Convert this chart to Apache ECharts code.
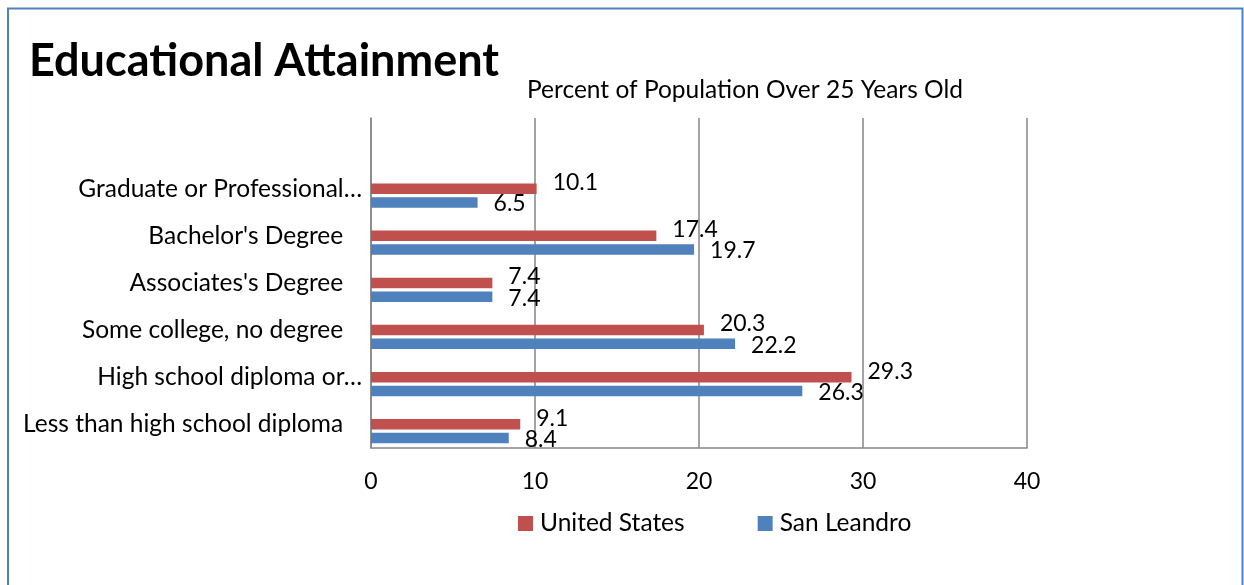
<!DOCTYPE html>
<html>
<head>
<meta charset="utf-8">
<script src="https://cdn.jsdelivr.net/npm/echarts@6/dist/echarts.min.js"></script>
<style>
html,body{margin:0;padding:0;background:#fff;}
#chart{width:1244px;height:585px;}
</style>
</head>
<body>
<div id="chart"></div>
<script>
// Categories bottom-to-top as drawn on the category axis
const categories = [
  "Less than high school diploma   ",
  "High school diploma or…",
  "Some college, no degree   ",
  "Associates's Degree   ",
  "Bachelor's Degree   ",
  "Graduate or Professional…"
];
const unitedStates = [9.1, 29.3, 20.3, 7.4, 17.4, 10.1];
const sanLeandro   = [8.4, 26.3, 22.2, 7.4, 19.7, 6.5];
const xTicks = [0, 10, 20, 30, 40];
const titleText = "Educational Attainment";
const subtitleText = "Percent of Population Over 25 Years Old";

const FONT = "Lato";
const RED = "#C0504D", BLUE = "#4F81BD";

const chart = echarts.init(document.getElementById('chart'), null, {renderer: 'canvas'});
// One empty slot at the top of the category axis, as in the original plot area
const yCats = categories.concat([""]);
const xMin = xTicks[0], xMax = xTicks[xTicks.length - 1];
chart.setOption({
  animation: false,
  backgroundColor: "#fff",
  textStyle: {fontFamily: FONT},
  graphic: [{
    type: 'rect', silent: true,
    shape: {x: 8, y: 8.5, width: 1234.5, height: 700},
    style: {fill: 'none', stroke: BLUE, lineWidth: 2}
  }],
  title: [
    {text: titleText, left: 24, top: 34,
     textStyle: {fontFamily: FONT, fontWeight: 'bold', fontSize: 45, color: '#000'}},
    {text: subtitleText, left: 740, top: 73, textAlign: 'center',
     textStyle: {fontFamily: FONT, fontWeight: 'normal', fontSize: 24.5, color: '#000'}}
  ],
  legend: {
    data: ["United States", "San Leandro"],
    left: 513, top: 506,
    itemWidth: 15, itemHeight: 15, itemGap: 73,
    icon: 'rect',
    textStyle: {fontFamily: FONT, fontSize: 24.5, color: '#000', padding: [0, 0, 0, 2]}
  },
  grid: [
    {left: 371, right: 217, top: 118, bottom: 137, containLabel: false},
    {left: 371, right: 217, top: 124.8, bottom: 130.2, containLabel: false}
  ],
  xAxis: [
    {gridIndex: 0, type: 'value', min: xMin, max: xMax, interval: 10,
     axisLine: {show: true, lineStyle: {color: '#868686', width: 1.5}},
     axisTick: {show: false},
     splitLine: {show: true, lineStyle: {color: '#868686', width: 1.5}},
     axisLabel: {fontFamily: FONT, fontSize: 23, color: '#000', margin: 22}},
    {gridIndex: 1, type: 'value', min: xMin, max: xMax, interval: 10, show: false,
     splitLine: {show: false}}
  ],
  yAxis: [
    {gridIndex: 0, type: 'category', data: yCats,
     axisLine: {show: true, lineStyle: {color: '#868686', width: 1.5}},
     axisTick: {show: false},
     axisLabel: {fontFamily: FONT, fontSize: 24.5, color: '#000', margin: 9}},
    {gridIndex: 1, type: 'category', data: yCats, show: false}
  ],
  series: [
    {name: "United States", type: 'bar', xAxisIndex: 1, yAxisIndex: 1,
     data: unitedStates.concat([null]),
     barWidth: 10.5, barGap: '31%',
     itemStyle: {color: RED},
     label: {show: true, position: 'right', distance: 16, offset: [0, -6],
             fontFamily: FONT, fontSize: 23, color: '#000'}},
    {name: "San Leandro", type: 'bar', xAxisIndex: 1, yAxisIndex: 1,
     data: sanLeandro.concat([null]),
     barWidth: 10.5, barGap: '31%',
     itemStyle: {color: BLUE},
     label: {show: true, position: 'right', distance: 16, offset: [0, 1.5],
             fontFamily: FONT, fontSize: 23, color: '#000'}}
  ]
});
</script>
</body>
</html>
